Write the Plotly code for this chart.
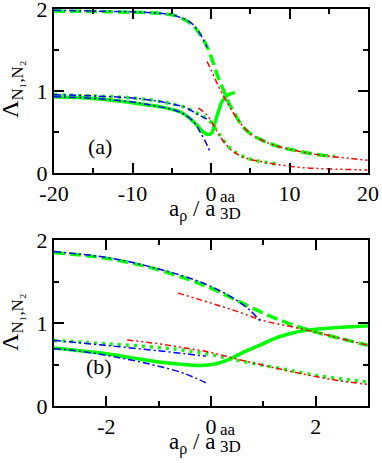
import plotly.graph_objects as go
from plotly.subplots import make_subplots

# ---- panel (a) data ----
a_gdash_x = [-20, -15, -10, -7, -5, -4, -3, -2.3, -1.6, -1.0, -0.4, 0.3, 0.9, 1.6, 2.2, 3.1, 3.9, 5.0, 6.3, 7.5, 9.0, 10.5, 12.5, 15.8]
a_gdash_y = [1.975, 1.97, 1.96, 1.95, 1.93, 1.90, 1.85, 1.80, 1.72, 1.63, 1.52, 1.34, 1.17, 1.01, 0.87, 0.71, 0.585, 0.48, 0.41, 0.36, 0.31, 0.28, 0.24, 0.20]
a_bup_x = [-20, -15, -10, -7, -5, -4, -3, -2.3, -1.6, -1.0, -0.5]
a_bup_y = [1.985, 1.975, 1.965, 1.95, 1.93, 1.90, 1.86, 1.81, 1.73, 1.63, 1.53]
a_rup_x = [-0.5, 0.1, 0.7, 1.3, 2.0, 3.0, 4.0, 5.0, 6.5, 8, 10, 12.5, 15, 17.5, 20]
a_rup_y = [1.36, 1.24, 1.11, 0.99, 0.87, 0.71, 0.58, 0.48, 0.40, 0.34, 0.29, 0.24, 0.205, 0.18, 0.155]
a_gsol_x = [-20, -15, -12, -8, -6, -4.4, -4, -2.7, -1.8, -1.0, -0.35, 0.1, 0.5, 0.95, 1.4, 2.0, 2.5, 3.05]
a_gsol_y = [0.93, 0.91, 0.88, 0.83, 0.80, 0.76, 0.75, 0.667, 0.585, 0.50, 0.47, 0.49, 0.61, 0.75, 0.87, 0.94, 0.965, 0.98]
a_blo1_x = [-20, -15, -10, -7, -4.4, -3.5, -2.3, -1.2, -0.5]
a_blo1_y = [0.955, 0.94, 0.915, 0.88, 0.83, 0.81, 0.75, 0.69, 0.655]
a_gdot_x = [-20, -15, -10, -7, -4.4, -3, -2, -1, 0, 0.5, 1, 1.8, 2.85, 4.5, 6.3, 7.5, 8.6]
a_gdot_y = [0.955, 0.94, 0.915, 0.88, 0.83, 0.79, 0.74, 0.69, 0.62, 0.55, 0.48, 0.37, 0.27, 0.185, 0.14, 0.125, 0.105]
a_rlo_x = [-1.6, -0.55, 0.3, 0.94, 1.8, 2.85, 4.5, 6.3, 8.4, 11.7, 15, 19.9]
a_rlo_y = [0.79, 0.71, 0.585, 0.48, 0.36, 0.26, 0.18, 0.14, 0.105, 0.065, 0.05, 0.037]
a_blo2_x = [-20, -15, -10, -7, -4.4, -3, -2, -1.4, -0.8, -0.13]
a_blo2_y = [0.93, 0.91, 0.865, 0.815, 0.76, 0.69, 0.60, 0.50, 0.40, 0.26]

# ---- panel (b) data ----
b_gdash_x = [-3, -2.5, -2, -1.5, -1, -0.5, 0, 0.5, 1, 1.5, 2, 2.5, 3]
b_gdash_y = [1.85, 1.82, 1.78, 1.72, 1.64, 1.54, 1.42, 1.27, 1.12, 0.99, 0.89, 0.81, 0.73]
b_bup_x = [-3, -2.5, -2, -1.5, -1, -0.5, 0, 0.5, 0.75, 0.96]
b_bup_y = [1.86, 1.83, 1.79, 1.73, 1.65, 1.56, 1.44, 1.27, 1.15, 1.01]
b_rup_x = [-0.63, 0, 0.5, 1, 1.5, 2, 2.5, 3]
b_rup_y = [1.36, 1.24, 1.14, 1.03, 0.96, 0.89, 0.81, 0.73]
b_gsol_x = [-3, -2.5, -2, -1.5, -1, -0.5, -0.2, 0.1, 0.3, 0.5, 0.7, 0.93, 1.2, 1.5, 1.75, 2, 2.5, 3]
b_gsol_y = [0.70, 0.665, 0.63, 0.58, 0.53, 0.50, 0.487, 0.51, 0.55, 0.61, 0.67, 0.73, 0.81, 0.87, 0.905, 0.925, 0.95, 0.965]
b_blo1_x = [-3, -2, -1, -0.5, -0.1]
b_blo1_y = [0.79, 0.73, 0.665, 0.63, 0.60]
b_gdot_x = [-3, -2, -1, -0.5, 0, 0.5, 1, 1.5, 2, 2.5, 3]
b_gdot_y = [0.79, 0.75, 0.705, 0.67, 0.62, 0.55, 0.49, 0.43, 0.37, 0.325, 0.29]
b_rlo_x = [-1.6, -1, -0.5, 0, 0.5, 1, 1.5, 2, 2.5, 3]
b_rlo_y = [0.795, 0.75, 0.70, 0.645, 0.565, 0.49, 0.42, 0.355, 0.30, 0.26]
b_blo2_x = [-3, -2.5, -2, -1.5, -1, -0.5, -0.1]
b_blo2_y = [0.69, 0.66, 0.61, 0.55, 0.48, 0.39, 0.28]

xticks_a = [-20, -10, 0, 10, 20]
xticks_b = [-2, 0, 2]
yticks = [0, 1, 2]

GREEN = "#00ff00"
BLUE = "#0000ff"
RED = "#ff0000"
FONT = "Liberation Serif"

styles = {
    "gdash": dict(color=GREEN, width=3.5, dash="11px,5px"),
    "gsol": dict(color=GREEN, width=3.5),
    "gdot": dict(color=GREEN, width=3.5, dash="3px,5px"),
    "blue": dict(color=BLUE, width=1.5, dash="7px,3px,2px,3px"),
    "red": dict(color=RED, width=1.5, dash="6px,3px,2px,3px,2px,3px"),
}

fig = make_subplots(rows=2, cols=1)

panels = {
    1: [(a_gdash_x, a_gdash_y, "gdash"), (a_gsol_x, a_gsol_y, "gsol"), (a_gdot_x, a_gdot_y, "gdot"),
        (a_rup_x, a_rup_y, "red"), (a_rlo_x, a_rlo_y, "red"),
        (a_bup_x, a_bup_y, "blue"), (a_blo1_x, a_blo1_y, "blue"), (a_blo2_x, a_blo2_y, "blue")],
    2: [(b_gdash_x, b_gdash_y, "gdash"), (b_gsol_x, b_gsol_y, "gsol"), (b_gdot_x, b_gdot_y, "gdot"),
        (b_rup_x, b_rup_y, "red"), (b_rlo_x, b_rlo_y, "red"),
        (b_bup_x, b_bup_y, "blue"), (b_blo1_x, b_blo1_y, "blue"), (b_blo2_x, b_blo2_y, "blue")],
}
for row, curves in panels.items():
    for xs, ys, st in curves:
        fig.add_trace(go.Scatter(x=xs, y=ys, mode="lines", line=styles[st],
                                 line_shape="spline", showlegend=False), row=row, col=1)

axis_common = dict(showline=True, linewidth=2, linecolor="black", mirror="allticks",
                   ticks="inside", ticklen=10, tickwidth=2, tickcolor="black",
                   showgrid=False, zeroline=False, automargin=False,
                   ticklabeloverflow="allow",
                   tickfont=dict(family=FONT, size=22, color="black"))

fig.update_xaxes(axis_common, range=[-20, 20], tickvals=xticks_a,
                 ticktext=[str(v) for v in xticks_a],
                 minor=dict(ticks="inside", ticklen=5, tickwidth=2, dtick=5, tick0=0, tickcolor="black"),
                 row=1, col=1)
fig.update_xaxes(axis_common, range=[-3, 3], tickvals=xticks_b,
                 ticktext=[str(v) for v in xticks_b],
                 minor=dict(ticks="inside", ticklen=5, tickwidth=2, dtick=1, tick0=0, tickcolor="black"),
                 row=2, col=1)
fig.update_yaxes(axis_common, range=[0, 2], tickvals=yticks,
                 ticktext=[str(v) for v in yticks],
                 minor=dict(ticks="inside", ticklen=5, tickwidth=2, dtick=0.5, tick0=0, tickcolor="black"))

# plot area in pixels: x 54..368, y 9..406
W, H = 382, 463
L, R, T, B = 54, 14, 9, 57
pw, ph = W - L - R, H - T - B


def px(xs, ys):
    return (xs - L) / pw, (H - B - ys) / ph


fig.update_layout(
    width=W, height=H,
    margin=dict(l=L, r=R, t=T, b=B),
    paper_bgcolor="white", plot_bgcolor="white",
    font=dict(family=FONT, color="black"),
    xaxis=dict(domain=[0, 1]), yaxis=dict(domain=[(406 - 173) / ph, 1]),
    xaxis2=dict(domain=[0, 1]), yaxis2=dict(domain=[0, 166 / ph]),
)

annotations = []
for ytop, label, lab_xy in [(0, "(a)", (86, 146)), (233, "(b)", (84, 381))]:
    # y title
    x0, y0 = px(12, 89 + ytop)
    annotations.append(dict(x=x0, y=y0, xref="paper", yref="paper", showarrow=False,
                            xanchor="center", yanchor="middle",
                            text="Λ<sub>N₁,N₂</sub>", textangle=-90,
                            font=dict(family=FONT, size=24)))
    # x title: main part and stacked sup/sub
    x0, y0 = px(217, 211 + ytop)
    annotations.append(dict(x=x0, y=y0, xref="paper", yref="paper", showarrow=False,
                            xanchor="right", yanchor="middle",
                            text="a<sub>ρ</sub> / a", font=dict(family=FONT, size=23)))
    x0, y0 = px(218, 196 + ytop)
    annotations.append(dict(x=x0, y=y0, xref="paper", yref="paper", showarrow=False,
                            xanchor="left", yanchor="middle",
                            text="aa", font=dict(family=FONT, size=17)))
    x0, y0 = px(218, 213 + ytop)
    annotations.append(dict(x=x0, y=y0, xref="paper", yref="paper", showarrow=False,
                            xanchor="left", yanchor="middle",
                            text="3D", font=dict(family=FONT, size=17)))
    x0, y0 = px(*lab_xy)
    annotations.append(dict(x=x0, y=y0, xref="paper", yref="paper", showarrow=False,
                            text=label, font=dict(family=FONT, size=22)))

fig.update_layout(annotations=annotations)

# drop the page's default body margin so the figure sits at the top-left corner
fig.write_html("out.html", config={"displayModeBar": False},
               post_script="document.body.style.margin='0';")
